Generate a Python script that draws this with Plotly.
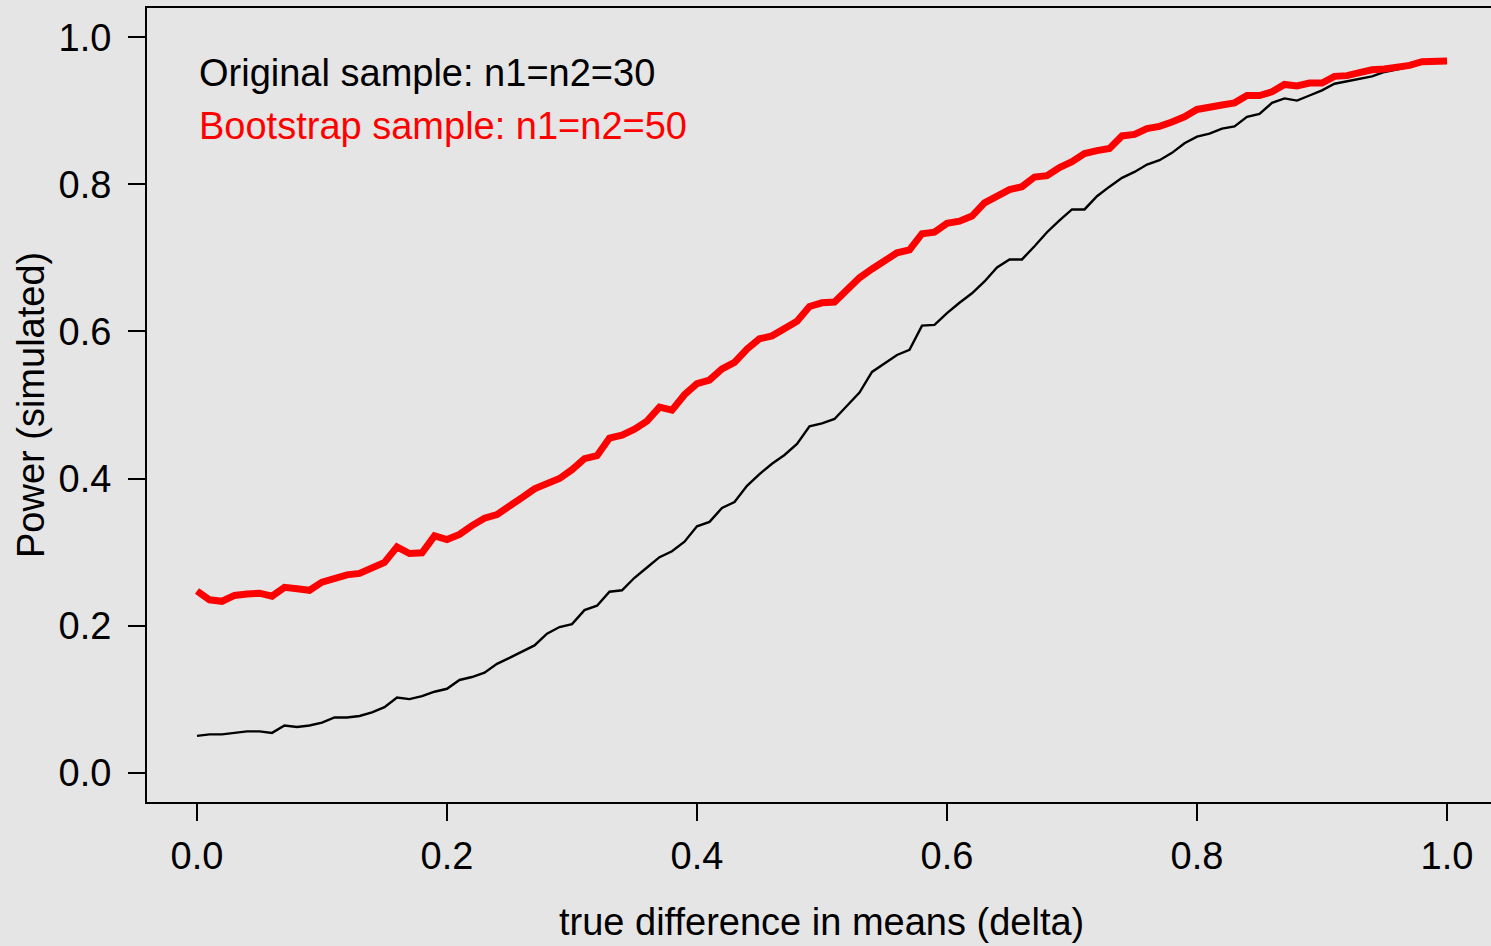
import plotly.graph_objects as go

delta = [i / 100 for i in range(101)]

power_original = [
    0.050, 0.052, 0.052, 0.054, 0.056, 0.056, 0.054, 0.064, 0.062, 0.064,
    0.068, 0.075, 0.075, 0.077, 0.082, 0.089, 0.102, 0.100, 0.104, 0.110,
    0.114, 0.126, 0.130, 0.136, 0.148, 0.156, 0.165, 0.173, 0.189, 0.198,
    0.202, 0.221, 0.227, 0.246, 0.248, 0.265, 0.279, 0.293, 0.301, 0.314,
    0.335, 0.341, 0.360, 0.368, 0.390, 0.406, 0.420, 0.432, 0.447, 0.471,
    0.475, 0.481, 0.499, 0.517, 0.545, 0.557, 0.568, 0.575, 0.608, 0.609,
    0.625, 0.639, 0.652, 0.668, 0.687, 0.698, 0.698, 0.716, 0.735, 0.751,
    0.766, 0.766, 0.784, 0.797, 0.809, 0.817, 0.827, 0.833, 0.843, 0.856,
    0.865, 0.869, 0.876, 0.879, 0.892, 0.896, 0.911, 0.917, 0.914, 0.921,
    0.928, 0.937, 0.940, 0.944, 0.947, 0.953, 0.957, 0.960, 0.966, 0.965,
    0.967,
]

power_bootstrap = [
    0.247, 0.235, 0.233, 0.241, 0.243, 0.244, 0.240, 0.252, 0.250, 0.248,
    0.259, 0.264, 0.269, 0.271, 0.279, 0.286, 0.307, 0.298, 0.299, 0.322,
    0.317, 0.324, 0.336, 0.346, 0.351, 0.364, 0.374, 0.386, 0.393, 0.400,
    0.412, 0.427, 0.431, 0.455, 0.459, 0.467, 0.478, 0.497, 0.493, 0.514,
    0.529, 0.534, 0.549, 0.558, 0.576, 0.590, 0.594, 0.604, 0.614, 0.634,
    0.639, 0.640, 0.657, 0.673, 0.685, 0.696, 0.707, 0.711, 0.733, 0.735,
    0.747, 0.750, 0.757, 0.775, 0.783, 0.793, 0.797, 0.810, 0.812, 0.823,
    0.831, 0.842, 0.846, 0.849, 0.866, 0.868, 0.876, 0.879, 0.885, 0.892,
    0.902, 0.906, 0.908, 0.911, 0.921, 0.921, 0.926, 0.936, 0.934, 0.938,
    0.938, 0.947, 0.948, 0.952, 0.956, 0.957, 0.959, 0.962, 0.967, 0.967,
    0.968,
]

tick_vals = [0.0, 0.2, 0.4, 0.6, 0.8, 1.0]
tick_text = ["0.0", "0.2", "0.4", "0.6", "0.8", "1.0"]

legend_labels = ["Original sample: n1=n2=30", "Bootstrap sample: n1=n2=50"]
x_title = "true difference in means (delta)"
y_title = "Power (simulated)"

FONT = "Liberation Sans, Arial, sans-serif"
BG = "#E5E5E5"

fig = go.Figure()
fig.add_trace(go.Scatter(x=delta, y=power_original, mode="lines",
                         line=dict(color="black", width=2.4),
                         name=legend_labels[0], showlegend=False))
fig.add_trace(go.Scatter(x=delta, y=power_bootstrap, mode="lines",
                         line=dict(color="#FF0000", width=7),
                         name=legend_labels[1], showlegend=False))

fig.add_annotation(x=0, y=0.951, xref="x", yref="y", text=legend_labels[0],
                   showarrow=False, xanchor="left", yanchor="middle",
                   font=dict(family=FONT, size=38, color="black"))
fig.add_annotation(x=0, y=0.880, xref="x", yref="y", text=legend_labels[1],
                   showarrow=False, xanchor="left", yanchor="middle",
                   font=dict(family=FONT, size=38, color="#FF0000"))

# axis titles (placed in paper coordinates, outside the plotting box)
fig.add_annotation(x=0.502, y=-0.1511, xref="paper", yref="paper", text=x_title,
                   showarrow=False, xanchor="center", yanchor="middle",
                   font=dict(family=FONT, size=38, color="black"))
fig.add_annotation(x=-0.0863, y=0.5, xref="paper", yref="paper", text=y_title,
                   showarrow=False, xanchor="center", yanchor="middle",
                   textangle=-90,
                   font=dict(family=FONT, size=38, color="black"))

fig.update_layout(
    width=1491, height=946,
    margin=dict(l=147, r=0, t=8, b=144),
    paper_bgcolor=BG, plot_bgcolor=BG,
    font=dict(family=FONT, size=38, color="black"),
    xaxis=dict(range=[-0.04, 1.0352], tickvals=tick_vals, ticktext=tick_text,
               showgrid=False, zeroline=False, showline=True, linecolor="black",
               linewidth=2, mirror=True, ticks="outside", ticklen=17,
               tickwidth=1.5, tickcolor="black", ticklabelstandoff=2),
    yaxis=dict(range=[-0.04, 1.04], tickvals=tick_vals, ticktext=tick_text,
               showgrid=False, zeroline=False, showline=True, linecolor="black",
               linewidth=2, ticks="outside", ticklen=17, tickwidth=1.5,
               tickcolor="black", ticklabelstandoff=9),
)

fig.write_html("out.html",
               config={"displayModeBar": False},
               post_script="document.body.style.margin='0';"
                           "document.body.style.background='#E5E5E5';")
